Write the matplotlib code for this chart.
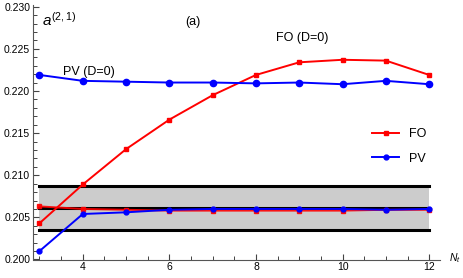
import matplotlib
matplotlib.use("Agg")
import matplotlib.pyplot as plt
from matplotlib.ticker import MultipleLocator, FormatStrFormatter
from matplotlib.lines import Line2D

plt.rcParams['font.family'] = ['Liberation Sans', 'DejaVu Sans']
plt.rcParams['mathtext.fontset'] = 'custom'
plt.rcParams['mathtext.it'] = 'Liberation Sans:italic'
plt.rcParams['mathtext.rm'] = 'Liberation Sans'

nt = [3, 4, 5, 6, 7, 8, 9, 10, 11, 12]
fo_d0 = [0.2043, 0.2089, 0.2131, 0.2166, 0.2195, 0.2219, 0.2234, 0.2237, 0.2236, 0.2219]
pv_d0 = [0.2219, 0.2212, 0.2211, 0.2210, 0.2210, 0.2209, 0.2210, 0.2208, 0.2212, 0.2208]
fo = [0.2063, 0.2060, 0.2059, 0.2058, 0.2058, 0.2058, 0.2058, 0.2058, 0.2059, 0.2059]
pv = [0.2010, 0.2054, 0.2056, 0.2059, 0.2060, 0.2060, 0.2060, 0.2060, 0.2059, 0.2060]
band_low, band_mid, band_high = 0.20353, 0.2061, 0.20867

fig = plt.figure(figsize=(4.63, 2.78), dpi=100)
ax = fig.add_axes([33/463, 1 - 259.5/278, (440-33)/463, (259.5-5)/278])

ax.fill_between([nt[0], nt[-1]], band_low, band_high, color='#cccccc', zorder=1, lw=0)
for yv in (band_low, band_mid, band_high):
    ax.plot([nt[0], nt[-1]], [yv, yv], color='black', lw=2.2, zorder=2)

ax.plot(nt, fo_d0, color='red', marker='s', ms=3.5, lw=1.4, zorder=3)
ax.plot(nt, pv_d0, color='blue', marker='o', ms=4.5, lw=1.4, zorder=3)
ax.plot(nt, fo, color='red', marker='s', ms=3.5, lw=1.4, zorder=3, alpha=0.9)
ax.plot(nt, pv, color='blue', marker='o', ms=3.5, lw=1.4, zorder=4)

ax.set_xlim(2.85, 12.25)
ax.set_ylim(0.2000, 0.2302)
ax.yaxis.set_major_locator(MultipleLocator(0.005))
ax.yaxis.set_minor_locator(MultipleLocator(0.001))
ax.yaxis.set_major_formatter(FormatStrFormatter('%.3f'))
ax.set_xticks([4, 6, 8, 10, 12])
ax.set_xticks([x / 2 for x in range(6, 25)], minor=True)

for s in ('top', 'right'):
    ax.spines[s].set_visible(False)
for s in ('left', 'bottom'):
    ax.spines[s].set_color('#555555')
    ax.spines[s].set_linewidth(0.8)
ax.tick_params(which='both', direction='in', color='#444444', labelsize=7.5, pad=2)
ax.tick_params(which='major', length=4.5, width=0.8)
ax.tick_params(which='minor', length=3, width=0.7)

fs = 9
fig.text(42/463, 1 - 20/278, r'$a^{(2,1)}$', fontsize=11, va='center')
fig.text(185/463, 1 - 22/278, '(a)', fontsize=fs, va='center')
fig.text(276/463, 1 - 38/278, 'FO (D=0)', fontsize=fs, va='center')
fig.text(63/463, 1 - 72/278, 'PV (D=0)', fontsize=fs, va='center')
fig.text(449/463, 1 - 258/278, r'$N_t$', fontsize=7.5, va='center')

handles = [Line2D([], [], color='red', marker='s', ms=3.5, lw=1.4),
           Line2D([], [], color='blue', marker='o', ms=3.5, lw=1.4)]
ax.legend(handles, ['FO', 'PV'], loc='upper left', bbox_to_anchor=(0.805, 0.56),
          frameon=False, fontsize=fs, handlelength=2.2, labelspacing=1.0)

fig.savefig('out.png', dpi=100)
